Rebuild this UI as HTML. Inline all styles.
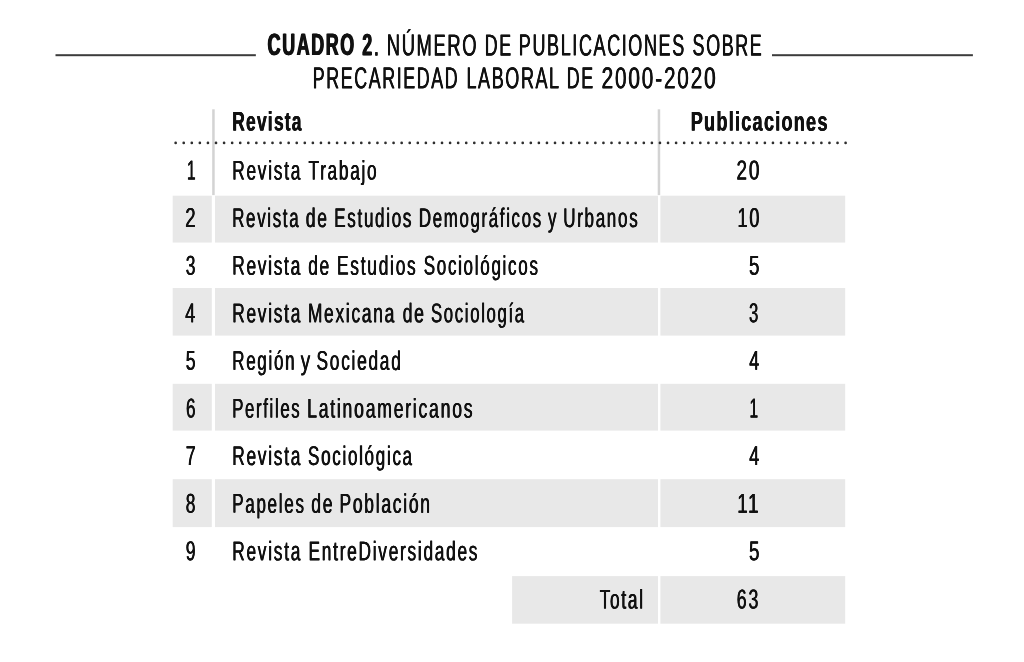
<!DOCTYPE html>
<html lang="es">
<head>
<meta charset="utf-8">
<title>Cuadro 2</title>
<style>
html,body{margin:0;padding:0;background:#fff;}
body{width:1024px;height:662px;position:relative;overflow:hidden;font-family:"Liberation Sans",sans-serif;color:#111;}
.t{position:absolute;left:0;top:0;white-space:pre;line-height:1;transform-origin:0 0;display:block;-webkit-text-stroke:0px #111;}
.b{font-weight:bold;}
#page{position:absolute;left:0;top:0;width:1024px;height:662px;}
.row{margin:0;padding:0;font-size:0;font-weight:normal;}
.r{position:absolute;}
.g{position:absolute;background:#e8e8e8;}
</style>
</head>
<body>
<div id="page">
<svg class="r" style="left:0;top:0" width="1024" height="662" viewBox="0 0 1024 662"><rect x="55.50" y="54.20" width="200.35" height="2.00" fill="#3c3c3c"/><rect x="772.00" y="54.20" width="200.90" height="2.00" fill="#3c3c3c"/><rect x="172.70" y="195.70" width="39.10" height="46.85" fill="#e8e8e8"/><rect x="215.00" y="195.70" width="443.00" height="46.85" fill="#e8e8e8"/><rect x="660.40" y="195.70" width="184.80" height="46.85" fill="#e8e8e8"/><rect x="172.70" y="288.00" width="39.10" height="47.60" fill="#e8e8e8"/><rect x="215.00" y="288.00" width="443.00" height="47.60" fill="#e8e8e8"/><rect x="660.40" y="288.00" width="184.80" height="47.60" fill="#e8e8e8"/><rect x="172.70" y="383.80" width="39.10" height="46.80" fill="#e8e8e8"/><rect x="215.00" y="383.80" width="443.00" height="46.80" fill="#e8e8e8"/><rect x="660.40" y="383.80" width="184.80" height="46.80" fill="#e8e8e8"/><rect x="172.70" y="479.20" width="39.10" height="47.90" fill="#e8e8e8"/><rect x="215.00" y="479.20" width="443.00" height="47.90" fill="#e8e8e8"/><rect x="660.40" y="479.20" width="184.80" height="47.90" fill="#e8e8e8"/><rect x="512.10" y="576.10" width="145.90" height="47.60" fill="#e8e8e8"/><rect x="660.40" y="576.10" width="184.80" height="47.60" fill="#e8e8e8"/><rect x="212.20" y="109.30" width="2.50" height="85.80" fill="#d3d3d3"/><rect x="657.70" y="109.30" width="2.50" height="85.80" fill="#d3d3d3"/><line x1="175.65" y1="142.9" x2="846.1" y2="142.9" stroke="#2e2e2e" stroke-width="2.7" stroke-dasharray="0 8.0717" stroke-linecap="round"/></svg>
<h1 class="row"><b class="t b" style="font-size:30.9px;transform:matrix(0.5785,0.0005,0,1,267.62,30.05);letter-spacing:0.09em;text-shadow:0.88px 0 0 #111,-0.88px 0 0 #111">CUADRO 2</b><span class="t" style="font-size:30.1px;transform:matrix(0.7115,0.0005,0,1,373.38,30.40);letter-spacing:0em;text-shadow:0.1px 0 0 #111,-0.1px 0 0 #111">.</span> <span class="t" style="font-size:30.1px;transform:matrix(0.6093,0.0005,0,1,386.78,30.36);letter-spacing:0.09em;text-shadow:0.42px 0 0 #111,-0.42px 0 0 #111">NÚMERO</span> <span class="t" style="font-size:30.1px;transform:matrix(0.5906,0.0005,0,1,484.87,30.39);letter-spacing:0.09em;text-shadow:0.42px 0 0 #111,-0.42px 0 0 #111">DE</span> <span class="t" style="font-size:30.1px;transform:matrix(0.5976,0.0005,0,1,518.85,30.33);letter-spacing:0.09em;text-shadow:0.42px 0 0 #111,-0.42px 0 0 #111">PUBLICACIONES</span> <span class="t" style="font-size:30.1px;transform:matrix(0.5940,0.0005,0,1,692.62,30.37);letter-spacing:0.09em;text-shadow:0.42px 0 0 #111,-0.42px 0 0 #111">SOBRE</span> <span class="t" style="font-size:30.1px;transform:matrix(0.5919,0.0005,0,1,312.82,63.24);letter-spacing:0.09em;text-shadow:0.42px 0 0 #111,-0.42px 0 0 #111">PRECARIEDAD</span> <span class="t" style="font-size:30.1px;transform:matrix(0.5975,0.0005,0,1,466.46,63.26);letter-spacing:0.09em;text-shadow:0.42px 0 0 #111,-0.42px 0 0 #111">LABORAL</span> <span class="t" style="font-size:30.1px;transform:matrix(0.5930,0.0005,0,1,566.76,63.29);letter-spacing:0.09em;text-shadow:0.42px 0 0 #111,-0.42px 0 0 #111">DE</span> <span class="t" style="font-size:30.1px;transform:matrix(0.6886,0.0005,0,1,601.61,63.26);letter-spacing:0.09em;text-shadow:0.42px 0 0 #111,-0.42px 0 0 #111">2000-2020</span></h1>
<div class="row"><b class="t b" style="font-size:26.9px;transform:matrix(0.6465,0.0005,0,1,232.29,108.57);letter-spacing:0.07em;text-shadow:0.38px 0 0 #111,-0.38px 0 0 #111">Revista</b> <b class="t b" style="font-size:26.9px;transform:matrix(0.6721,0.0005,0,1,690.76,108.55);letter-spacing:0.07em;text-shadow:0.38px 0 0 #111,-0.38px 0 0 #111">Publicaciones</b></div>
<div class="row"><span class="t" style="font-size:27.4px;transform:matrix(0.5632,0.0005,0,1,186.90,156.45);letter-spacing:0.1em;text-shadow:0.42px 0 0 #111,-0.42px 0 0 #111">1</span> <span class="t" style="font-size:26.9px;transform:matrix(0.6440,0.0005,0,1,232.20,157.42);letter-spacing:0.1em;text-shadow:0.42px 0 0 #111,-0.42px 0 0 #111">Revista</span> <span class="t" style="font-size:26.9px;transform:matrix(0.6400,0.0005,0,1,308.55,157.42);letter-spacing:0.1em;text-shadow:0.42px 0 0 #111,-0.42px 0 0 #111">Trabajo</span> <span class="t" style="font-size:27.4px;transform:matrix(0.6888,0.0005,0,1,736.51,156.44);letter-spacing:0.1em;text-shadow:0.42px 0 0 #111,-0.42px 0 0 #111">20</span></div>
<div class="row"><span class="t" style="font-size:27.4px;transform:matrix(0.6776,0.0005,0,1,185.27,204.05);letter-spacing:0.1em;text-shadow:0.42px 0 0 #111,-0.42px 0 0 #111">2</span> <span class="t" style="font-size:26.9px;transform:matrix(0.6268,0.0005,0,1,232.23,205.02);letter-spacing:0.1em;text-shadow:0.42px 0 0 #111,-0.42px 0 0 #111">Revista</span> <span class="t" style="font-size:26.9px;transform:matrix(0.6482,0.0005,0,1,305.87,205.04);letter-spacing:0.1em;text-shadow:0.42px 0 0 #111,-0.42px 0 0 #111">de</span> <span class="t" style="font-size:26.9px;transform:matrix(0.6326,0.0005,0,1,334.22,205.02);letter-spacing:0.1em;text-shadow:0.42px 0 0 #111,-0.42px 0 0 #111">Estudios</span> <span class="t" style="font-size:26.9px;transform:matrix(0.6253,0.0005,0,1,418.88,205.00);letter-spacing:0.1em;text-shadow:0.42px 0 0 #111,-0.42px 0 0 #111">Demográficos</span> <span class="t" style="font-size:26.9px;transform:matrix(0.6309,0.0005,0,1,548.00,205.05);letter-spacing:0.1em;text-shadow:0.42px 0 0 #111,-0.42px 0 0 #111">y</span> <span class="t" style="font-size:26.9px;transform:matrix(0.6329,0.0005,0,1,563.15,205.02);letter-spacing:0.1em;text-shadow:0.42px 0 0 #111,-0.42px 0 0 #111">Urbanos</span> <span class="t" style="font-size:27.4px;transform:matrix(0.6570,0.0005,0,1,737.55,204.04);letter-spacing:0.1em;text-shadow:0.42px 0 0 #111,-0.42px 0 0 #111">10</span></div>
<div class="row"><span class="t" style="font-size:27.4px;transform:matrix(0.6339,0.0005,0,1,185.83,251.65);letter-spacing:0.1em;text-shadow:0.42px 0 0 #111,-0.42px 0 0 #111">3</span> <span class="t" style="font-size:26.9px;transform:matrix(0.6431,0.0005,0,1,232.20,252.62);letter-spacing:0.1em;text-shadow:0.42px 0 0 #111,-0.42px 0 0 #111">Revista</span> <span class="t" style="font-size:26.9px;transform:matrix(0.6466,0.0005,0,1,308.17,252.64);letter-spacing:0.1em;text-shadow:0.42px 0 0 #111,-0.42px 0 0 #111">de</span> <span class="t" style="font-size:26.9px;transform:matrix(0.6468,0.0005,0,1,336.90,252.62);letter-spacing:0.1em;text-shadow:0.42px 0 0 #111,-0.42px 0 0 #111">Estudios</span> <span class="t" style="font-size:26.9px;transform:matrix(0.6325,0.0005,0,1,423.70,252.60);letter-spacing:0.1em;text-shadow:0.42px 0 0 #111,-0.42px 0 0 #111">Sociológicos</span> <span class="t" style="font-size:27.4px;transform:matrix(0.6845,0.0005,0,1,749.07,251.65);letter-spacing:0.1em;text-shadow:0.42px 0 0 #111,-0.42px 0 0 #111">5</span></div>
<div class="row"><span class="t" style="font-size:27.4px;transform:matrix(0.6525,0.0005,0,1,185.24,299.25);letter-spacing:0.1em;text-shadow:0.42px 0 0 #111,-0.42px 0 0 #111">4</span> <span class="t" style="font-size:26.9px;transform:matrix(0.6436,0.0005,0,1,232.20,300.22);letter-spacing:0.1em;text-shadow:0.42px 0 0 #111,-0.42px 0 0 #111">Revista</span> <span class="t" style="font-size:26.9px;transform:matrix(0.6449,0.0005,0,1,307.90,300.22);letter-spacing:0.1em;text-shadow:0.42px 0 0 #111,-0.42px 0 0 #111">Mexicana</span> <span class="t" style="font-size:26.9px;transform:matrix(0.6498,0.0005,0,1,402.67,300.24);letter-spacing:0.1em;text-shadow:0.42px 0 0 #111,-0.42px 0 0 #111">de</span> <span class="t" style="font-size:26.9px;transform:matrix(0.6217,0.0005,0,1,431.01,300.21);letter-spacing:0.1em;text-shadow:0.42px 0 0 #111,-0.42px 0 0 #111">Sociología</span> <span class="t" style="font-size:27.4px;transform:matrix(0.6084,0.0005,0,1,749.05,299.25);letter-spacing:0.1em;text-shadow:0.42px 0 0 #111,-0.42px 0 0 #111">3</span></div>
<div class="row"><span class="t" style="font-size:27.4px;transform:matrix(0.6438,0.0005,0,1,185.66,346.85);letter-spacing:0.1em;text-shadow:0.42px 0 0 #111,-0.42px 0 0 #111">5</span> <span class="t" style="font-size:26.9px;transform:matrix(0.6319,0.0005,0,1,232.22,347.83);letter-spacing:0.1em;text-shadow:0.42px 0 0 #111,-0.42px 0 0 #111">Región</span> <span class="t" style="font-size:26.9px;transform:matrix(0.7006,0.0005,0,1,300.75,347.85);letter-spacing:0.1em;text-shadow:0.42px 0 0 #111,-0.42px 0 0 #111">y</span> <span class="t" style="font-size:26.9px;transform:matrix(0.6429,0.0005,0,1,316.59,347.82);letter-spacing:0.1em;text-shadow:0.42px 0 0 #111,-0.42px 0 0 #111">Sociedad</span> <span class="t" style="font-size:27.4px;transform:matrix(0.6525,0.0005,0,1,749.24,346.85);letter-spacing:0.1em;text-shadow:0.42px 0 0 #111,-0.42px 0 0 #111">4</span></div>
<div class="row"><span class="t" style="font-size:27.4px;transform:matrix(0.6238,0.0005,0,1,185.98,394.45);letter-spacing:0.1em;text-shadow:0.42px 0 0 #111,-0.42px 0 0 #111">6</span> <span class="t" style="font-size:26.9px;transform:matrix(0.6219,0.0005,0,1,232.24,395.42);letter-spacing:0.1em;text-shadow:0.42px 0 0 #111,-0.42px 0 0 #111">Perfiles</span> <span class="t" style="font-size:26.9px;transform:matrix(0.6548,0.0005,0,1,307.13,395.39);letter-spacing:0.1em;text-shadow:0.42px 0 0 #111,-0.42px 0 0 #111">Latinoamericanos</span> <span class="t" style="font-size:27.4px;transform:matrix(0.5632,0.0005,0,1,749.60,394.45);letter-spacing:0.1em;text-shadow:0.42px 0 0 #111,-0.42px 0 0 #111">1</span></div>
<div class="row"><span class="t" style="font-size:27.4px;transform:matrix(0.6514,0.0005,0,1,185.65,442.05);letter-spacing:0.1em;text-shadow:0.42px 0 0 #111,-0.42px 0 0 #111">7</span> <span class="t" style="font-size:26.9px;transform:matrix(0.6450,0.0005,0,1,232.20,443.02);letter-spacing:0.1em;text-shadow:0.42px 0 0 #111,-0.42px 0 0 #111">Revista</span> <span class="t" style="font-size:26.9px;transform:matrix(0.6322,0.0005,0,1,308.10,443.01);letter-spacing:0.1em;text-shadow:0.42px 0 0 #111,-0.42px 0 0 #111">Sociológica</span> <span class="t" style="font-size:27.4px;transform:matrix(0.6525,0.0005,0,1,749.24,442.05);letter-spacing:0.1em;text-shadow:0.42px 0 0 #111,-0.42px 0 0 #111">4</span></div>
<div class="row"><span class="t" style="font-size:27.4px;transform:matrix(0.6333,0.0005,0,1,185.83,489.65);letter-spacing:0.1em;text-shadow:0.42px 0 0 #111,-0.42px 0 0 #111">8</span> <span class="t" style="font-size:26.9px;transform:matrix(0.6327,0.0005,0,1,232.22,490.62);letter-spacing:0.1em;text-shadow:0.42px 0 0 #111,-0.42px 0 0 #111">Papeles</span> <span class="t" style="font-size:26.9px;transform:matrix(0.6530,0.0005,0,1,311.32,490.64);letter-spacing:0.1em;text-shadow:0.42px 0 0 #111,-0.42px 0 0 #111">de</span> <span class="t" style="font-size:26.9px;transform:matrix(0.6484,0.0005,0,1,339.49,490.62);letter-spacing:0.1em;text-shadow:0.42px 0 0 #111,-0.42px 0 0 #111">Población</span> <span class="t" style="font-size:27.4px;transform:matrix(0.6849,0.0005,0,1,737.20,489.64);letter-spacing:0.1em;text-shadow:0.42px 0 0 #111,-0.42px 0 0 #111">11</span></div>
<div class="row"><span class="t" style="font-size:27.4px;transform:matrix(0.6406,0.0005,0,1,185.78,537.25);letter-spacing:0.1em;text-shadow:0.42px 0 0 #111,-0.42px 0 0 #111">9</span> <span class="t" style="font-size:26.9px;transform:matrix(0.6440,0.0005,0,1,232.20,538.22);letter-spacing:0.1em;text-shadow:0.42px 0 0 #111,-0.42px 0 0 #111">Revista</span> <span class="t" style="font-size:26.9px;transform:matrix(0.6431,0.0005,0,1,308.50,538.18);letter-spacing:0.1em;text-shadow:0.42px 0 0 #111,-0.42px 0 0 #111">EntreDiversidades</span> <span class="t" style="font-size:27.4px;transform:matrix(0.6845,0.0005,0,1,749.07,537.25);letter-spacing:0.1em;text-shadow:0.42px 0 0 #111,-0.42px 0 0 #111">5</span></div>
<div class="row"><span class="t" style="font-size:26.9px;transform:matrix(0.6400,0.0005,0,1,599.75,586.38);letter-spacing:0.1em;text-shadow:0.42px 0 0 #111,-0.42px 0 0 #111">Total</span> <span class="t" style="font-size:27.4px;transform:matrix(0.6467,0.0005,0,1,736.85,585.39);letter-spacing:0.1em;text-shadow:0.42px 0 0 #111,-0.42px 0 0 #111">63</span></div>
</div>
</body>
</html>
